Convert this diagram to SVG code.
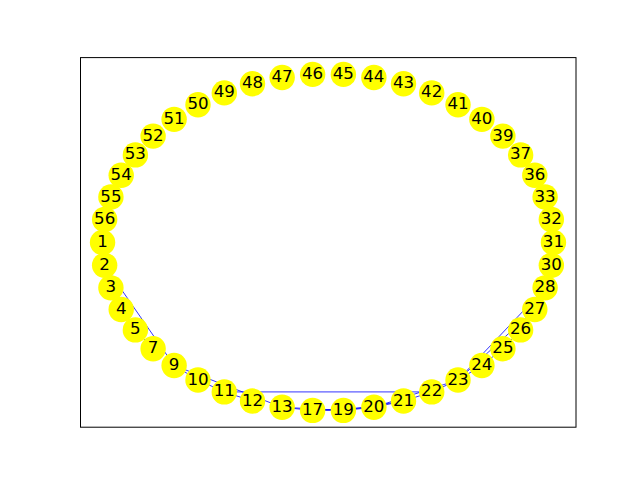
<svg xmlns="http://www.w3.org/2000/svg" width="640" height="480" viewBox="0 0 640 480">
<style>
.n circle{fill:#ffff00;stroke:none}
.n text{font-family:"DejaVu Sans",sans-serif;font-size:16.67px;fill:#000;text-anchor:middle}
.e line{stroke:#0000ff;stroke-width:0.8}
</style>
<rect x="0" y="0" width="640" height="480" fill="#ffffff"/>
<rect x="80.5" y="57.6" width="495.5" height="369.6" fill="none" stroke="#000" stroke-width="1"/>
<g id="edges" class="e">
<line x1="104.65" y1="265.33" x2="174.12" y2="365.47"/>
<line x1="121.21" y1="309.49" x2="135.37" y2="329.90"/>
<line x1="135.37" y1="329.90" x2="153.11" y2="348.68"/>
<line x1="174.12" y1="365.47" x2="197.99" y2="379.98"/>
<line x1="174.12" y1="365.47" x2="282.13" y2="407.28"/>
<line x1="197.99" y1="379.98" x2="224.28" y2="391.92"/>
<line x1="224.28" y1="391.92" x2="252.50" y2="401.07"/>
<line x1="224.28" y1="391.92" x2="431.72" y2="391.92"/>
<line x1="282.13" y1="407.28" x2="312.62" y2="410.41"/>
<line x1="282.13" y1="407.28" x2="343.38" y2="410.41"/>
<line x1="312.62" y1="410.41" x2="343.38" y2="410.41"/>
<line x1="312.62" y1="410.41" x2="373.87" y2="407.28"/>
<line x1="343.38" y1="410.41" x2="373.87" y2="407.28"/>
<line x1="343.38" y1="410.41" x2="403.50" y2="401.07"/>
<line x1="373.87" y1="407.28" x2="403.50" y2="401.07"/>
<line x1="373.87" y1="407.28" x2="458.01" y2="379.98"/>
<line x1="403.50" y1="401.07" x2="431.72" y2="391.92"/>
<line x1="431.72" y1="391.92" x2="458.01" y2="379.98"/>
<line x1="458.01" y1="379.98" x2="481.88" y2="365.47"/>
<line x1="458.01" y1="379.98" x2="534.79" y2="309.49"/>
<line x1="458.01" y1="379.98" x2="545.09" y2="287.83"/>
<line x1="481.88" y1="365.47" x2="502.89" y2="348.68"/>
<line x1="502.89" y1="348.68" x2="520.63" y2="329.90"/>
<line x1="520.63" y1="329.90" x2="534.79" y2="309.49"/>
</g>
<g id="n31" class="n"><circle cx="553.45" cy="242.40" r="12.7"/><text x="553.45" y="246.9">31</text></g>
<g id="n32" class="n"><circle cx="551.35" cy="219.47" r="12.7"/><text x="551.35" y="224.0">32</text></g>
<g id="n33" class="n"><circle cx="545.09" cy="196.97" r="12.7"/><text x="545.09" y="201.5">33</text></g>
<g id="n36" class="n"><circle cx="534.79" cy="175.31" r="12.7"/><text x="534.79" y="179.8">36</text></g>
<g id="n37" class="n"><circle cx="520.63" cy="154.90" r="12.7"/><text x="520.63" y="159.4">37</text></g>
<g id="n39" class="n"><circle cx="502.89" cy="136.12" r="12.7"/><text x="502.89" y="140.6">39</text></g>
<g id="n40" class="n"><circle cx="481.88" cy="119.33" r="12.7"/><text x="481.88" y="123.8">40</text></g>
<g id="n41" class="n"><circle cx="458.01" cy="104.82" r="12.7"/><text x="458.01" y="109.3">41</text></g>
<g id="n42" class="n"><circle cx="431.72" cy="92.88" r="12.7"/><text x="431.72" y="97.4">42</text></g>
<g id="n43" class="n"><circle cx="403.50" cy="83.73" r="12.7"/><text x="403.50" y="88.2">43</text></g>
<g id="n44" class="n"><circle cx="373.87" cy="77.52" r="12.7"/><text x="373.87" y="82.0">44</text></g>
<g id="n45" class="n"><circle cx="343.38" cy="74.39" r="12.7"/><text x="343.38" y="78.9">45</text></g>
<g id="n46" class="n"><circle cx="312.62" cy="74.39" r="12.7"/><text x="312.62" y="78.9">46</text></g>
<g id="n47" class="n"><circle cx="282.13" cy="77.52" r="12.7"/><text x="282.13" y="82.0">47</text></g>
<g id="n48" class="n"><circle cx="252.50" cy="83.73" r="12.7"/><text x="252.50" y="88.2">48</text></g>
<g id="n49" class="n"><circle cx="224.28" cy="92.88" r="12.7"/><text x="224.28" y="97.4">49</text></g>
<g id="n50" class="n"><circle cx="197.99" cy="104.82" r="12.7"/><text x="197.99" y="109.3">50</text></g>
<g id="n51" class="n"><circle cx="174.12" cy="119.33" r="12.7"/><text x="174.12" y="123.8">51</text></g>
<g id="n52" class="n"><circle cx="153.11" cy="136.12" r="12.7"/><text x="153.11" y="140.6">52</text></g>
<g id="n53" class="n"><circle cx="135.37" cy="154.90" r="12.7"/><text x="135.37" y="159.4">53</text></g>
<g id="n54" class="n"><circle cx="121.21" cy="175.31" r="12.7"/><text x="121.21" y="179.8">54</text></g>
<g id="n55" class="n"><circle cx="110.91" cy="196.97" r="12.7"/><text x="110.91" y="201.5">55</text></g>
<g id="n56" class="n"><circle cx="104.65" cy="219.47" r="12.7"/><text x="104.65" y="224.0">56</text></g>
<g id="n1" class="n"><circle cx="102.55" cy="242.40" r="12.7"/><text x="102.55" y="246.9">1</text></g>
<g id="n2" class="n"><circle cx="104.65" cy="265.33" r="12.7"/><text x="104.65" y="269.8">2</text></g>
<g id="n3" class="n"><circle cx="110.91" cy="287.83" r="12.7"/><text x="110.91" y="292.3">3</text></g>
<g id="n4" class="n"><circle cx="121.21" cy="309.49" r="12.7"/><text x="121.21" y="314.0">4</text></g>
<g id="n5" class="n"><circle cx="135.37" cy="329.90" r="12.7"/><text x="135.37" y="334.4">5</text></g>
<g id="n7" class="n"><circle cx="153.11" cy="348.68" r="12.7"/><text x="153.11" y="353.2">7</text></g>
<g id="n9" class="n"><circle cx="174.12" cy="365.47" r="12.7"/><text x="174.12" y="370.0">9</text></g>
<g id="n10" class="n"><circle cx="197.99" cy="379.98" r="12.7"/><text x="197.99" y="384.5">10</text></g>
<g id="n11" class="n"><circle cx="224.28" cy="391.92" r="12.7"/><text x="224.28" y="396.4">11</text></g>
<g id="n12" class="n"><circle cx="252.50" cy="401.07" r="12.7"/><text x="252.50" y="405.6">12</text></g>
<g id="n13" class="n"><circle cx="282.13" cy="407.28" r="12.7"/><text x="282.13" y="411.8">13</text></g>
<g id="n17" class="n"><circle cx="312.62" cy="410.41" r="12.7"/><text x="312.62" y="414.9">17</text></g>
<g id="n19" class="n"><circle cx="343.38" cy="410.41" r="12.7"/><text x="343.38" y="414.9">19</text></g>
<g id="n20" class="n"><circle cx="373.87" cy="407.28" r="12.7"/><text x="373.87" y="411.8">20</text></g>
<g id="n21" class="n"><circle cx="403.50" cy="401.07" r="12.7"/><text x="403.50" y="405.6">21</text></g>
<g id="n22" class="n"><circle cx="431.72" cy="391.92" r="12.7"/><text x="431.72" y="396.4">22</text></g>
<g id="n23" class="n"><circle cx="458.01" cy="379.98" r="12.7"/><text x="458.01" y="384.5">23</text></g>
<g id="n24" class="n"><circle cx="481.88" cy="365.47" r="12.7"/><text x="481.88" y="370.0">24</text></g>
<g id="n25" class="n"><circle cx="502.89" cy="348.68" r="12.7"/><text x="502.89" y="353.2">25</text></g>
<g id="n26" class="n"><circle cx="520.63" cy="329.90" r="12.7"/><text x="520.63" y="334.4">26</text></g>
<g id="n27" class="n"><circle cx="534.79" cy="309.49" r="12.7"/><text x="534.79" y="314.0">27</text></g>
<g id="n28" class="n"><circle cx="545.09" cy="287.83" r="12.7"/><text x="545.09" y="292.3">28</text></g>
<g id="n30" class="n"><circle cx="551.35" cy="265.33" r="12.7"/><text x="551.35" y="269.8">30</text></g>
</svg>
